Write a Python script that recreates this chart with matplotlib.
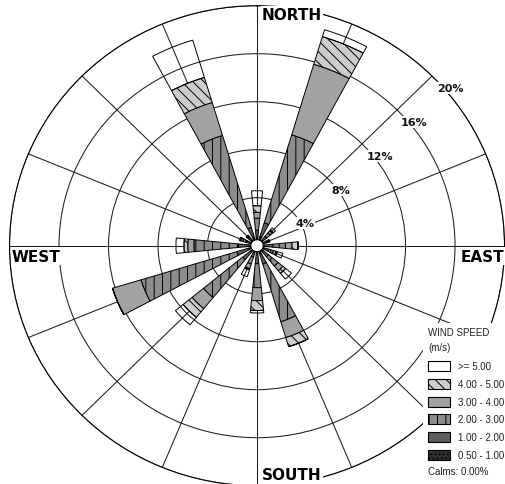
import numpy as np
import matplotlib
matplotlib.use("Agg")
import matplotlib.pyplot as plt
from matplotlib.patches import Rectangle

# 16 compass sectors, clockwise from north
directions = ["N", "NNE", "NE", "ENE", "E", "ESE", "SE", "SSE",
              "S", "SSW", "SW", "WSW", "W", "WNW", "NW", "NNW"]
dir_angles = np.arange(16) * 22.5

speed_classes = ["0.50 - 1.00", "1.00 - 2.00", "2.00 - 3.00",
                 "3.00 - 4.00", "4.00 - 5.00", ">= 5.00"]

# frequency (%) of each speed class per direction
freq_05_1 = [0.2, 0.3, 0.1, 0.1, 0.1, 0.1, 0.1, 0.2, 0.2, 0.1, 0.2, 0.2, 0.2, 0.1, 0.1, 0.2]
freq_1_2 = [0.6, 1.2, 0.4, 0.2, 0.7, 0.4, 0.6, 0.9, 0.8, 0.4, 0.8, 1.0, 0.8, 0.3, 0.2, 0.9]
freq_2_3 = [1.0, 7.65, 0.4, 0.15, 1.0, 0.4, 1.0, 5.02, 2.0, 0.6, 4.1, 8.1, 3.6, 0.3, 0.15, 8.0]
freq_3_4 = [0.48, 6.15, 0.2, 0.05, 0.53, 0.21, 0.5, 1.38, 1.08, 0.4, 1.19, 2.4, 0.5, 0.15, 0.1, 2.87]
freq_4_5 = [0.55, 2.4, 0.1, 0.05, 0.49, 0.1, 0.28, 0.79, 0.82, 0.1, 0.93, 0.0, 0.3, 0.05, 0.05, 2.18]
freq_5_up = [1.25, 0.6, 0.23, 0.05, 0.0, 0.48, 0.62, 0.0, 0.21, 0.6, 0.81, 0.0, 0.65, 0.1, 0.05, 3.25]
class_freqs = [freq_05_1, freq_1_2, freq_2_3, freq_3_4, freq_4_5, freq_5_up]

ring_values = [4, 8, 12, 16, 20]
calm_radius = 0.5
calms_pct = 0.00

# styling per speed class
class_faces = ["#2e2e2e", "#5e5e5e", "#8c8c8c", "#a2a2a2", "#cdcdcd", "none"]
class_hatches = ["....", None, "||", None, "\\\\\\", None]

plt.rcParams["hatch.linewidth"] = 0.7

W, H = 506, 485
fig = plt.figure(figsize=(W / 100, H / 100), dpi=100)
# image is slightly squashed vertically, so let the polar axes be elliptical
ax = fig.add_axes([0.0188, -0.0035, 0.9783, 0.9897], projection="polar")
ax.set_aspect("auto")
ax.set_theta_zero_location("N")
ax.set_theta_direction(-1)
ax.set_ylim(0, ring_values[-1])
ax.set_yticks(ring_values)
ax.set_yticklabels([])
ax.set_thetagrids(dir_angles, labels=[""] * len(dir_angles))
ax.grid(color="#1e1e1e", linewidth=0.75)
ax.set_axisbelow(True)
ax.spines["polar"].set_linewidth(0.8)

theta = np.deg2rad(dir_angles)
width = np.deg2rad(11.25)
bottom = np.full(len(directions), calm_radius)
for vals, face, hatch in zip(class_freqs, class_faces, class_hatches):
    vals = np.array(vals)
    ax.bar(theta, vals, width=width, bottom=bottom, facecolor=face,
           edgecolor="black", linewidth=0.7, hatch=hatch, zorder=2)
    bottom = bottom + vals

# calm circle
t = np.linspace(0, 2 * np.pi, 120)
ax.fill(t, np.full_like(t, calm_radius), facecolor="white",
        edgecolor="black", linewidth=0.8, zorder=3)

# ring percentage labels
label_angles = [64, 55.7, 53.1, 50.9, 49.9]
label_radii = [4.31, 8.22, 12.43, 16.35, 20.4]
for v, a, r in zip(ring_values, label_angles, label_radii):
    ax.text(np.deg2rad(a), r, f"{v}%", ha="center", va="center",
            fontsize=8, fontweight="bold", color="#111111", zorder=4,
            bbox=dict(facecolor="white", edgecolor="none", pad=0.6))

# compass labels
compass = [("NORTH", 262, 16), ("WEST", 12, 257), ("EAST", 461, 257), ("SOUTH", 262, 476)]
for name, px, py in compass:
    fig.text(px / W, 1 - py / H, name, ha="left", va="center",
             fontsize=11, fontweight="bold", color="black",
             bbox=dict(facecolor="white", edgecolor="none", pad=0.8))

# legend, on a white panel that hides the rose behind it
fig.add_artist(Rectangle((423 / W, 0), (W - 423) / W, (H - 324) / H,
                         transform=fig.transFigure, facecolor="white",
                         edgecolor="none", zorder=1))
leg_font = dict(family="Liberation Sans", fontsize=7, color="#222222", zorder=3)
fig.text(428 / W, 1 - 333 / H, "WIND SPEED", ha="left", va="center", **leg_font)
fig.text(428 / W, 1 - 348 / H, "(m/s)", ha="left", va="center", **leg_font)
box_w, box_h, step = 21.7, 10, 17.9
for i, (label, face, hatch) in enumerate(zip(speed_classes[::-1], class_faces[::-1], class_hatches[::-1])):
    top = 361.7 + i * step
    fc = "white" if face == "none" else face
    fig.add_artist(Rectangle((428.3 / W, 1 - (top + box_h) / H), box_w / W, box_h / H,
                             transform=fig.transFigure, facecolor=fc, edgecolor="black",
                             linewidth=0.8, hatch=hatch, zorder=2))
    fig.text(458 / W, 1 - (top + box_h / 2) / H, label, ha="left", va="center", **leg_font)
fig.text(428 / W, 1 - 472 / H, f"Calms: {calms_pct:.2f}%", ha="left", va="center", **leg_font)

fig.savefig("out.png", dpi=100)
